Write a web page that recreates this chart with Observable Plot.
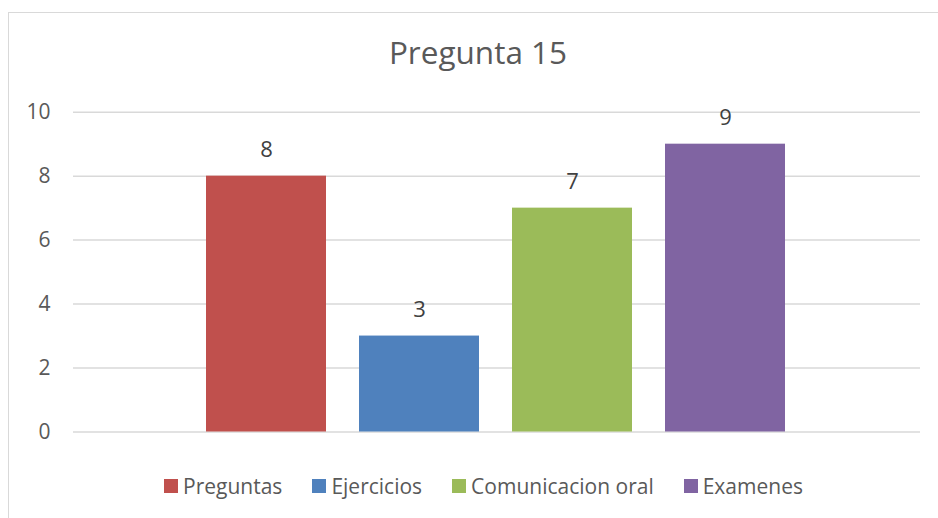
<!DOCTYPE html>
<html>
<head>
<meta charset="utf-8">
<script src="https://cdn.jsdelivr.net/npm/d3@7"></script>
<script src="https://cdn.jsdelivr.net/npm/@observablehq/plot@0.6"></script>
<style>
  html, body { margin: 0; padding: 0; background: #fff; overflow: hidden; }
  #wrap { position: relative; width: 938px; height: 518px; font-family: "Open Sans", sans-serif; color: #595959; }
  #frame { position: absolute; left: 8px; top: 12px; width: 940px; height: 520px;
           border-left: 1.5px solid #d9d9d9; border-top: 1.5px solid #d9d9d9; box-sizing: border-box; }
  #title { position: absolute; left: 0; width: 956px; top: 30px; text-align: center;
           font-size: 31.5px; line-height: 44px; color: #595959; }
  #legend { position: absolute; left: 0; width: 967px; top: 472px; display: flex; justify-content: center;
            font-size: 21px; line-height: 28px; color: #595959; }
  .item { display: flex; align-items: center; margin: 0 15px; }
  .sw { width: 14px; height: 14px; margin-right: 5px; }
  #chart { position: absolute; left: 0; top: 0; }
</style>
</head>
<body>
<div id="wrap">
  <div id="frame"></div>
  <div id="chart"></div>
  <div id="title"></div>
  <div id="legend"></div>
</div>
<script>
const title = "Pregunta 15";
const categories = ["Preguntas", "Ejercicios", "Comunicacion oral", "Examenes"];
const values = [8, 3, 7, 9];
const colors = ["#C0504D", "#4F81BD", "#9BBB59", "#8064A2"];
const yTicks = [0, 2, 4, 6, 8, 10];

const data = categories.map((c, i) => ({category: c, value: values[i]}));

const chart = Plot.plot({
  width: 938,
  height: 518,
  marginLeft: 73,
  marginRight: 18,
  marginTop: 112,
  marginBottom: 86,
  style: {fontFamily: "'Open Sans', sans-serif", fontSize: "21px", color: "#595959", background: "transparent"},
  x: {type: "band", domain: categories, range: [172, 820], padding: 0.2143, axis: null},
  y: {domain: [0, 10], range: [431.5, 111.7], axis: null},
  color: {domain: categories, range: colors},
  marks: [
    Plot.ruleY(yTicks, {stroke: "#d9d9d9", strokeWidth: 1.5}),
    Plot.axisY({ticks: yTicks, tickSize: 0, tickPadding: 23, fontSize: 21, color: "#595959", label: null}),
    Plot.barY(data, {x: "category", y: "value", fill: "category"}),
    Plot.text(data, {x: "category", y: "value", text: d => String(d.value), dy: -26, fontSize: 22, fill: "#404040"})
  ]
});
document.getElementById("chart").appendChild(chart);

document.getElementById("title").textContent = title;
const legend = document.getElementById("legend");
categories.forEach((c, i) => {
  const item = document.createElement("div");
  item.className = "item";
  const sw = document.createElement("div");
  sw.className = "sw";
  sw.style.background = colors[i];
  const lab = document.createElement("span");
  lab.textContent = c;
  item.appendChild(sw);
  item.appendChild(lab);
  legend.appendChild(item);
});
</script>
</body>
</html>
